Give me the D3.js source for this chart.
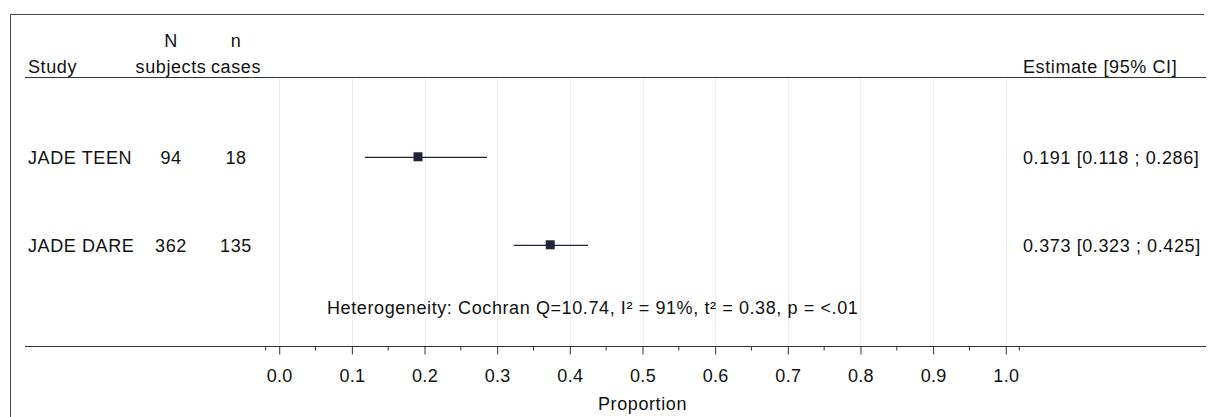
<!DOCTYPE html>
<html>
<head>
<meta charset="utf-8">
<script src="https://cdn.jsdelivr.net/npm/d3@7"></script>
<style>
  body { margin: 0; background: #fff; }
  svg { display: block; font-family: "Liberation Sans", Arial, sans-serif; }
  .lbl { letter-spacing: 0.6px; }
</style>
</head>
<body>
<svg width="1209" height="417"></svg>
<script>
// study data
var studies = ["JADE TEEN", "JADE DARE"];
var nSubjects = [94, 362];
var nCases = [18, 135];
var estimate = [0.191, 0.373];
var lower = [0.118, 0.323];
var upper = [0.286, 0.425];

var tickValues = [0, 0.1, 0.2, 0.3, 0.4, 0.5, 0.6, 0.7, 0.8, 0.9, 1.0];
var minorTicks = [0.05, 0.15, 0.25, 0.35, 0.45, 0.55, 0.65, 0.75, 0.85, 0.95];
var hetText = "Heterogeneity: Cochran Q=10.74, I\u00B2 = 91%, t\u00B2 = 0.38, p = <.01";

var width = 1209, height = 417;
var svg = d3.select('svg');
var fmt = d3.format('.3f');

// plot panel limits, slightly padded beyond 0..1
var x = d3.scaleLinear().domain([-0.0186, 1.0186]).range([265.7, 1019.3]);
var y = d3.scalePoint().domain(studies).range([157.3, 245.3]);

var headerY = 77.5, axisY = 346.5;

// outer frame (top + left)
svg.append('path')
  .attr('d', 'M10.5,' + height + 'V14.5H1204')
  .attr('fill', 'none').attr('stroke', '#444').attr('stroke-width', 1);

// grid
svg.append('g').selectAll('line')
  .data(tickValues)
  .enter().append('line')
    .attr('x1', function (d) { return Math.round(x(d)) + 0.5 })
    .attr('x2', function (d) { return Math.round(x(d)) + 0.5 })
    .attr('y1', headerY + 1).attr('y2', axisY)
    .attr('stroke', '#ebebeb').attr('stroke-width', 1);

// header rule and axis rule
svg.append('line').attr('x1', 25).attr('x2', 1206).attr('y1', headerY).attr('y2', headerY)
  .attr('stroke', '#333').attr('stroke-width', 1.2);
svg.append('line').attr('x1', 25).attr('x2', 1206).attr('y1', axisY).attr('y2', axisY)
  .attr('stroke', '#333').attr('stroke-width', 1.2);

// axis ticks
var axis = d3.axisBottom(x).tickValues(tickValues).tickFormat(d3.format('.1f'))
  .tickSizeOuter(0).tickSizeInner(8);
var gAxis = svg.append('g').attr('transform', 'translate(0,' + axisY + ')').call(axis);
gAxis.select('.domain').remove();
gAxis.selectAll('line').attr('stroke', '#333');
gAxis.selectAll('text')
  .attr('y', 35).attr('dy', null)
  .attr('font-size', 18).attr('font-family', '"Liberation Sans", Arial, sans-serif')
  .attr('fill', '#111').style('letter-spacing', '0.3px');

svg.append('g').selectAll('line')
  .data(minorTicks.concat(x.domain()))
  .enter().append('line')
    .attr('x1', function (d) { return x(d) }).attr('x2', function (d) { return x(d) })
    .attr('y1', axisY).attr('y2', axisY + 4)
    .attr('stroke', '#333');

svg.append('text').attr('class', 'lbl').attr('x', x(0.5)).attr('y', 410)
  .attr('text-anchor', 'middle').attr('font-size', 18).attr('fill', '#111')
  .text('Proportion');

// column headers
var head = svg.append('g').attr('class', 'lbl').attr('font-size', 18).attr('fill', '#111');
head.append('text').attr('x', 28).attr('y', 73).text('Study');
head.append('text').attr('x', 171).attr('y', 47).attr('text-anchor', 'middle').text('N');
head.append('text').attr('x', 171).attr('y', 73).attr('text-anchor', 'middle').text('subjects');
head.append('text').attr('x', 236).attr('y', 47).attr('text-anchor', 'middle').text('n');
head.append('text').attr('x', 236).attr('y', 73).attr('text-anchor', 'middle').text('cases');
head.append('text').attr('x', 1023).attr('y', 73).text('Estimate [95% CI]');

// study rows
var rows = svg.append('g').selectAll('g')
  .data(studies)
  .enter().append('g')
    .attr('class', 'lbl').attr('font-size', 18).attr('fill', '#111');

rows.append('text').attr('x', 28).attr('y', function (d) { return y(d) }).attr('dy', '0.36em')
  .text(function (d) { return d });
rows.append('text').attr('x', 171).attr('y', function (d) { return y(d) }).attr('dy', '0.36em')
  .attr('text-anchor', 'middle').text(function (d, i) { return nSubjects[i] });
rows.append('text').attr('x', 236).attr('y', function (d) { return y(d) }).attr('dy', '0.36em')
  .attr('text-anchor', 'middle').text(function (d, i) { return nCases[i] });
rows.append('text').attr('x', 1023).attr('y', function (d) { return y(d) }).attr('dy', '0.36em')
  .text(function (d, i) { return fmt(estimate[i]) + ' [' + fmt(lower[i]) + ' ; ' + fmt(upper[i]) + ']' });

// CI lines and squares
rows.append('line')
  .attr('x1', function (d, i) { return x(lower[i]) })
  .attr('x2', function (d, i) { return x(upper[i]) })
  .attr('y1', function (d) { return y(d) }).attr('y2', function (d) { return y(d) })
  .attr('stroke', '#23233a').attr('stroke-width', 1.3);
rows.append('rect')
  .attr('x', function (d, i) { return x(estimate[i]) - 4.5 })
  .attr('y', function (d) { return y(d) - 5 })
  .attr('width', 9).attr('height', 9)
  .attr('fill', '#23233a');

// heterogeneity
svg.append('text').attr('class', 'lbl').attr('x', 327).attr('y', 314).attr('font-size', 18).attr('fill', '#111')
  .text(hetText);
</script>
</body>
</html>
